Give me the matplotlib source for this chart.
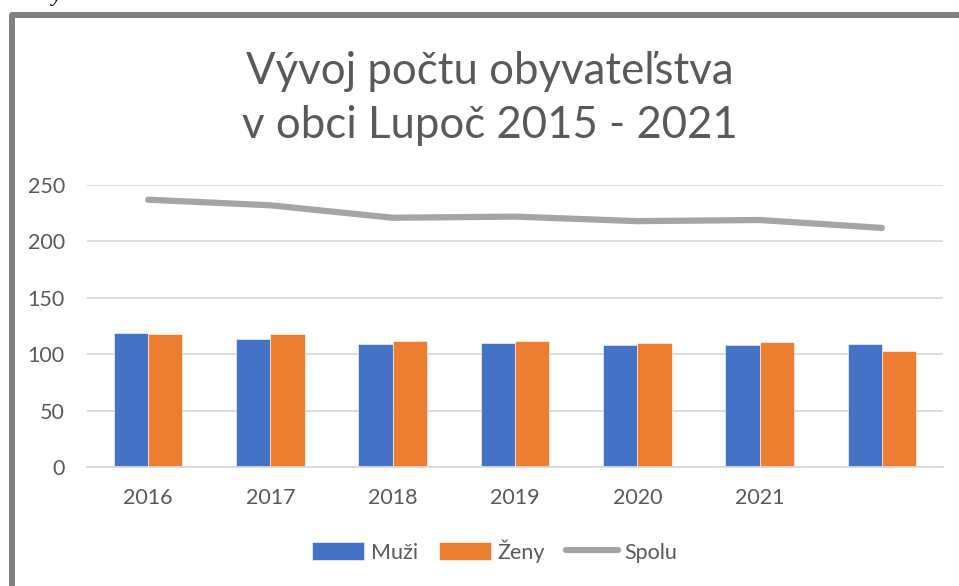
"""
Population chart for Lupoč (Excel-style combo chart: bars + total line)
"""
import numpy as np
import matplotlib
matplotlib.use('Agg')
import matplotlib.pyplot as plt
from matplotlib.lines import Line2D

# data
years = ['2016', '2017', '2018', '2019', '2020', '2021', '']
muzi = [119, 114, 109, 110, 108, 108, 109]
zeny = [118, 118, 112, 112, 110, 111, 103]
spolu = [237, 232, 221, 222, 218, 219, 212]

BLUE = '#4472C4'
ORANGE = '#ED7D31'
GRAY = '#A5A5A5'
TEXT = '#595959'
GRID = '#D9D9D9'

plt.rcParams['font.family'] = ['Lato', 'DejaVu Sans']

fig = plt.figure(figsize=(9.59, 5.86), dpi=100)
ax = fig.add_axes([0.0907, 0.2026, 0.8926, 0.4817])

x = np.arange(len(years))
w = 0.28
b1 = ax.bar(x - w / 2, muzi, w, color=BLUE, edgecolor='white', linewidth=0.4, label='Muži', zorder=2)
b2 = ax.bar(x + w / 2, zeny, w, color=ORANGE, edgecolor='white', linewidth=0.4, label='Ženy', zorder=2)
l1, = ax.plot(x, spolu, color=GRAY, linewidth=4.5, solid_capstyle='round', label='Spolu', zorder=3)

ax.set_xlim(-0.5, len(years) - 0.5)
ax.set_ylim(0, 250)
ax.set_yticks(np.arange(0, 251, 50))
ax.set_xticks(x)
ax.set_xticklabels(years)
ax.tick_params(axis='both', length=0, labelsize=15.5, colors=TEXT)
ax.tick_params(axis='x', pad=15)
ax.tick_params(axis='y', pad=16)
ax.grid(axis='y', color=GRID, linewidth=1.3, zorder=0)
ax.set_axisbelow(True)
for s in ['top', 'right', 'left']:
    ax.spines[s].set_visible(False)
ax.spines['bottom'].set_color(GRID)
ax.spines['bottom'].set_linewidth(1.3)

fig.text(0.511, 0.832, 'Vývoj počtu obyvateľstva\nv obci Lupoč 2015 - 2021',
         ha='center', va='center', fontsize=31.5, color=TEXT, linespacing=1.4)

ax.legend([b1, b2, l1], ['Muži', 'Ženy', 'Spolu'],
          loc='center', bbox_to_anchor=(0.516, 0.06), bbox_transform=fig.transFigure,
          ncol=3, frameon=False, fontsize=15.5, labelcolor=TEXT,
          handlelength=2.4, handleheight=0.9, handletextpad=0.3, columnspacing=1.0)

# gray frame left/top, as in the screenshot
fx = 11.5 / 959
fy = 1 - 14.5 / 586
fig.add_artist(Line2D([fx, fx, 1.0], [0.0, fy, fy], transform=fig.transFigure,
                      color='#7F7F7F', linewidth=4.3, solid_joinstyle='round'))
# cut-off letter above the frame
fig.text(0.054, 0.998, 'y', fontsize=16, style='italic', family='Liberation Serif',
         color='black', va='baseline')

fig.savefig('out.png', dpi=100)
